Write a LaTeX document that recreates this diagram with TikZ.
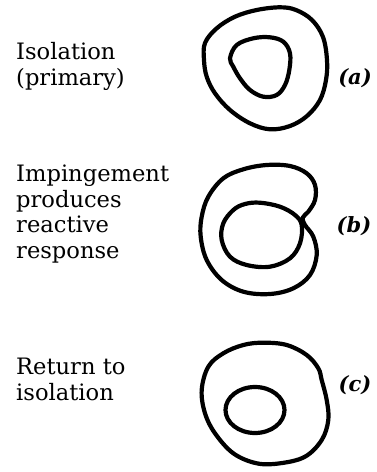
\documentclass[tikz,border=0pt]{standalone}
\usepackage{fontspec}
\setmainfont{DejaVu Serif}
\begin{document}
\begin{tikzpicture}[x=1pt,y=-1pt,
  contour/.style={line width=4.2pt,line join=round,smooth cycle,tension=0.6},
  caption/.style={anchor=base west,align=left,inner sep=0pt,
    font=\fontsize{22.6}{25.7}\selectfont},
  tag/.style={anchor=center,inner sep=0pt,
    font=\fontsize{21}{24}\selectfont\bfseries\itshape}]
\useasboundingbox (0,0) rectangle (376,472);

% (a) primary isolation
\draw[contour] plot coordinates {(205,43) (216.7,28.3) (235,16.7) (256.7,10) (280,7.3)
  (296,10) (312,20) (323,37) (327,60) (326,80) (320,100) (307,116) (290,126)
  (270,129.3) (250,123.3) (230,110) (215,93.3) (206.7,76.7) (204,60)};
\draw[contour] plot coordinates {(230,58.3) (236.7,45) (253.3,38.3) (270,37.3) (283.3,41.7)
  (290,53.3) (289.3,70) (285,85) (276.7,95) (263.3,96.7) (250,90) (240,78.3) (233.3,66.7)};

% (b) impingement
\draw[contour] plot coordinates {(302.7,217.7) (308.3,211.7) (315,200) (315,185)
  (306.7,173.3) (290,166) (266.7,165) (243.3,169.3) (223.3,178.3) (208.3,196.7)
  (201.7,216.7) (200.7,236.7) (206.7,260) (221.7,280) (243.3,291.7) (270,294)
  (293.3,288.3) (310,275) (316.7,255) (313.3,236.7) (305,225)};
\draw[contour] plot coordinates {(260,202.7) (280,206.7) (295,215) (301.7,225) (300,243.3)
  (290,258.3) (270,266.7) (246.7,265) (230,256.7) (221.7,240) (223.3,223.3) (233.3,210)
  (245,204)};

% (c) return to isolation
\draw[contour] plot coordinates {(263.3,342.7) (286.7,345) (306.7,355) (318.3,368.3)
  (321.7,380) (326.7,400) (328.3,420) (321.7,440) (305,456.7) (280,463.3) (256.7,463.3)
  (233.3,453.3) (215,433.3) (205,413.3) (201.7,390) (208.3,366.7) (223.3,353.3) (243.3,345)};
\draw[line width=4.2pt] (255,410) ellipse [x radius=29.5,y radius=23];

% captions (anchored at the baseline of their last line)
\node[caption] (ta) at (16,85) {Isolation\\(primary)};
\node[caption] (tb) at (16,258.5) {Impingement\\produces\\reactive\\response};
\node[caption] (tc) at (16,400) {Return to\\isolation};

% letters
\node[tag] (la) at (355,78) {(a)};
\node[tag] (lb) at (354,226) {(b)};
\node[tag] (lc) at (355,385) {(c)};
\end{tikzpicture}
\end{document}
